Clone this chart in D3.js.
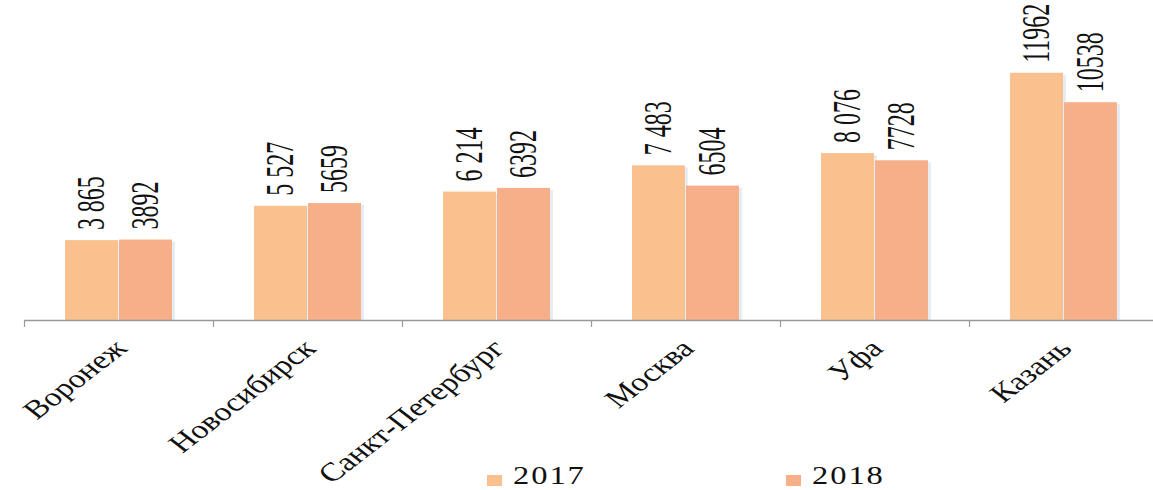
<!DOCTYPE html>
<html>
<head>
<meta charset="utf-8">
<script src="https://cdn.jsdelivr.net/npm/d3@7"></script>
<style>
  html, body { margin: 0; padding: 0; background: #fff; }
  svg { display: block; }
  text { font-family: "Liberation Serif", "Times New Roman", serif; fill: #111; }
</style>
</head>
<body>
<svg id="chart" width="1153" height="490"></svg>
<script>
// Cities along the category axis
const cities = ["Воронеж", "Новосибирск", "Санкт-Петербург", "Москва", "Уфа", "Казань"];
// Series
const years = ["2017", "2018"];
const values2017 = [3865, 5527, 6214, 7483, 8076, 11962];
const values2018 = [3892, 5659, 6392, 6504, 7728, 10538];
// Value labels as printed above the bars
const labels2017 = ["3 865", "5 527", "6 214", "7 483", "8 076", "11962"];
const labels2018 = ["3892", "5659", "6392", "6504", "7728", "10538"];
const colors = ["#FAC08E", "#F6AF88"];

const svg = d3.select("#chart");
const W = 1153, H = 490;
const baseY = 320;

const x0 = d3.scaleBand().domain(cities).range([24, 24 + 189 * cities.length]).padding(0);
const x1 = d3.scaleBand().domain(years).range([0, x0.bandwidth()])
  .paddingInner(0.02).paddingOuter(0.76);
const y = d3.scaleLinear().domain([0, 12000]).range([baseY, 72]);

const rows = cities.map((c, i) => ({
  city: c,
  bars: [
    { year: years[0], value: values2017[i], label: labels2017[i], color: colors[0] },
    { year: years[1], value: values2018[i], label: labels2018[i], color: colors[1] }
  ]
}));

const g = svg.append("g");

const groups = g.selectAll("g.city").data(rows).join("g")
  .attr("class", "city")
  .attr("transform", d => `translate(${x0(d.city)},0)`);

// soft shadow to the right of each bar
groups.selectAll("rect.shadow").data(d => d.bars).join("rect")
  .attr("class", "shadow")
  .attr("x", d => x1(d.year) + 3)
  .attr("y", d => y(d.value) + 2)
  .attr("width", x1.bandwidth())
  .attr("height", d => baseY - y(d.value) - 2)
  .attr("fill", "#dfe9ef")
  .attr("opacity", 0.8);

groups.selectAll("rect.bar").data(d => d.bars).join("rect")
  .attr("class", "bar")
  .attr("x", d => x1(d.year))
  .attr("y", d => y(d.value))
  .attr("width", x1.bandwidth())
  .attr("height", d => baseY - y(d.value))
  .attr("fill", d => d.color);

// rotated value labels
groups.selectAll("text.val").data(d => d.bars).join("text")
  .attr("class", "val")
  .attr("transform", d => `translate(${x1(d.year) + x1.bandwidth() / 2 + 12},${y(d.value) - 10}) scale(1.65,1) rotate(-90)`)
  .attr("font-size", 24)
  .attr("text-anchor", "start")
  .text(d => d.label);

// x axis: baseline with ticks on category boundaries
g.append("line")
  .attr("x1", x0.range()[0]).attr("x2", W)
  .attr("y1", baseY + 0.5).attr("y2", baseY + 0.5)
  .attr("stroke", "#9a9a9a").attr("stroke-width", 1.5);

g.selectAll("line.tick").data(cities).join("line")
  .attr("class", "tick")
  .attr("x1", d => x0(d) + 0.5).attr("x2", d => x0(d) + 0.5)
  .attr("y1", baseY).attr("y2", baseY + 7)
  .attr("stroke", "#9a9a9a").attr("stroke-width", 1.2);

// category labels
g.selectAll("text.cat").data(cities).join("text")
  .attr("class", "cat")
  .attr("transform", d => `translate(${x0(d) + x0.bandwidth() / 2 + 10},${baseY + 30}) scale(1.3,1) rotate(-45)`)
  .attr("font-size", 26)
  .attr("text-anchor", "end")
  .text(d => d);

// legend
const legendX = [487, 786];
const legend = svg.selectAll("g.legend").data(years).join("g")
  .attr("class", "legend")
  .attr("transform", (d, i) => `translate(${legendX[i]},0)`);
legend.append("rect")
  .attr("x", 0).attr("y", 475).attr("width", 15).attr("height", 11)
  .attr("fill", (d, i) => colors[i]);
legend.append("text")
  .attr("transform", "translate(26,484) scale(1.3,1)")
  .attr("font-size", 25)
  .attr("letter-spacing", 1.5)
  .text(d => d);
</script>
</body>
</html>
